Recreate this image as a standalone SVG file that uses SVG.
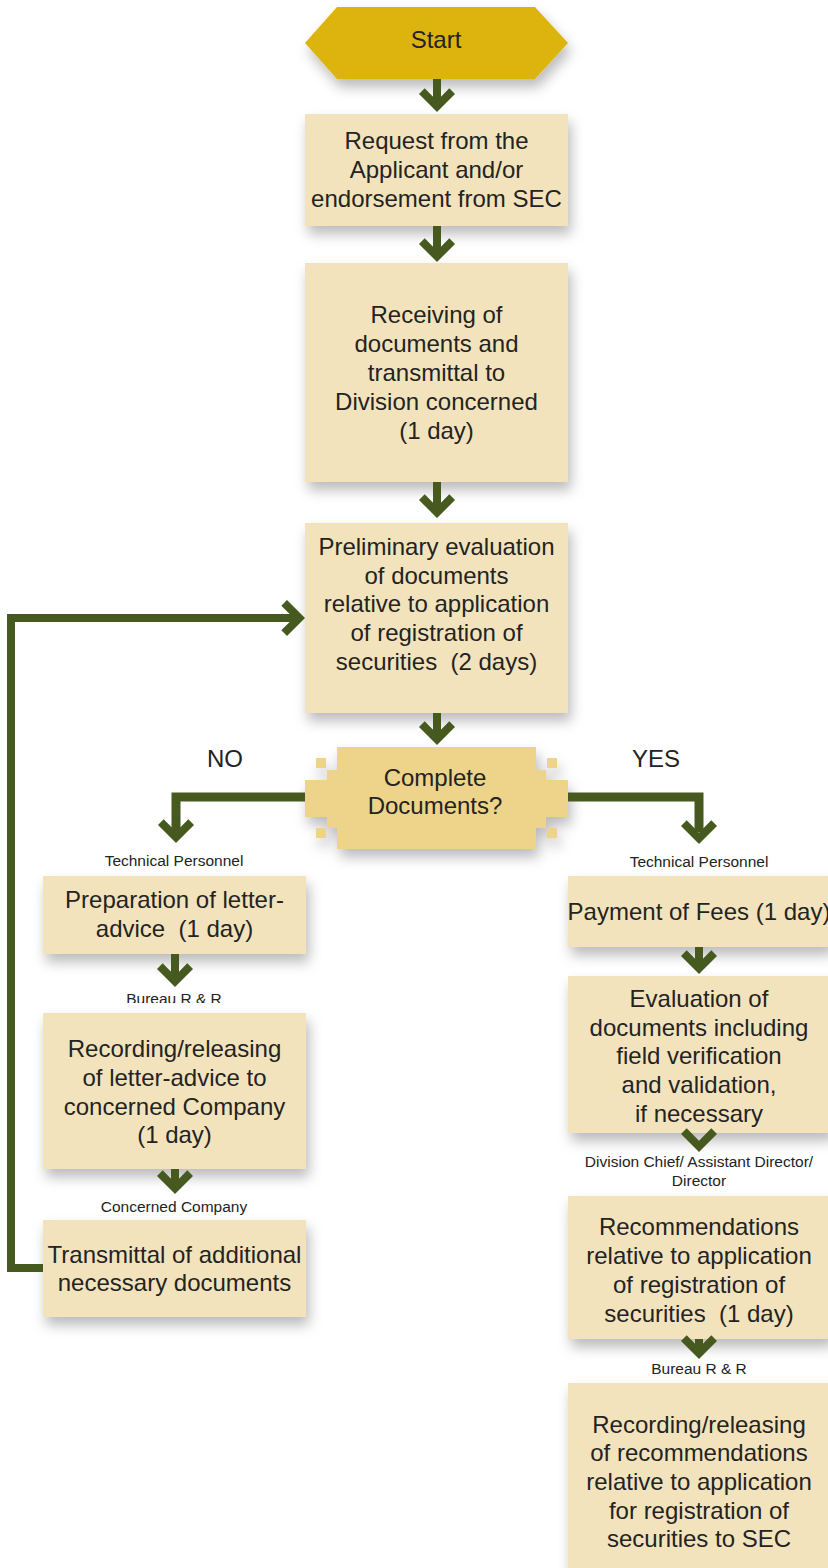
<svg xmlns="http://www.w3.org/2000/svg" width="828" height="1568" viewBox="0 0 828 1568">
  <style>
    .box { fill: #F3E3BD; filter: url(#shadow); }
    .start { fill: #DDB407; filter: url(#shadow); }
    .dec { fill: #EDD48A; }
    .t { font-family: "Liberation Sans", Arial, sans-serif; font-size: 24px; fill: #232323; text-anchor: middle; white-space: pre; }
    .s { font-family: "Liberation Sans", Arial, sans-serif; font-size: 15.5px; fill: #232323; text-anchor: middle; white-space: pre; }
    .line { fill: none; stroke: #465A1F; stroke-width: 9; stroke-linejoin: miter; }
    .stem { fill: #465A1F; }
    .head { fill: #465A1F; }
  </style>
  <defs>
    <filter id="shadow" x="-15%" y="-15%" width="135%" height="145%">
      <feDropShadow dx="3" dy="8" stdDeviation="6.5" flood-color="#000" flood-opacity="0.27"/>
    </filter>
    <!-- chevron arrowhead, tip at origin, pointing down -->
    <path id="chev" d="M-18,-18 L0,0 L18,-18 L12.3,-23.7 L0,-11.3 L-12.3,-23.7 Z"/>
    <clipPath id="clipBureauL">
      <rect x="0" y="980" width="400" height="23"/>
    </clipPath>
  </defs>

  <rect width="828" height="1568" fill="#FFFFFF"/>

  <!-- start terminal -->
  <g id="start">
    <polygon class="start" points="305,43 337,7 535,7 568,43 535,79 337,79"/>
    <text class="t" x="436" y="48">Start</text>
  </g>

  <g id="request">
    <rect class="box" x="305" y="114" width="263" height="112"/>
    <text class="t" x="436.5" y="149">Request from the</text>
    <text class="t" x="436.5" y="178">Applicant and/or</text>
    <text class="t" x="436.5" y="207">endorsement from SEC</text>
  </g>

  <g id="receiving">
    <rect class="box" x="305" y="263" width="263" height="219"/>
    <text class="t" x="436.5" y="323">Receiving of</text>
    <text class="t" x="436.5" y="352">documents and</text>
    <text class="t" x="436.5" y="381">transmittal to</text>
    <text class="t" x="436.5" y="410">Division concerned</text>
    <text class="t" x="436.5" y="439">(1 day)</text>
  </g>

  <g id="preliminary">
    <rect class="box" x="305" y="523" width="263" height="190"/>
    <text class="t" x="436.5" y="555">Preliminary evaluation</text>
    <text class="t" x="436.5" y="584">of documents</text>
    <text class="t" x="436.5" y="612">relative to application</text>
    <text class="t" x="436.5" y="641">of registration of</text>
    <text class="t" x="436.5" y="670" xml:space="preserve">securities  (2 days)</text>
  </g>

  <!-- decision: stepped shape -->
  <g id="decision">
    <g filter="url(#shadow)">
      <rect class="dec" x="337" y="747" width="199" height="102"/>
      <rect class="dec" x="327" y="770" width="219" height="58"/>
      <rect class="dec" x="305" y="780" width="263" height="37"/>
      <rect class="dec" x="316" y="758" width="10" height="10"/>
      <rect class="dec" x="547" y="758" width="10" height="10"/>
      <rect class="dec" x="316" y="828" width="10" height="10"/>
      <rect class="dec" x="547" y="828" width="10" height="10"/>
    </g>
    <text class="t" x="435" y="786">Complete</text>
    <text class="t" x="435" y="814">Documents?</text>
  </g>

  <!-- NO branch -->
  <g id="letter-advice">
    <text class="s" x="174" y="866">Technical Personnel</text>
    <rect class="box" x="43" y="876" width="263" height="78"/>
    <text class="t" x="174.5" y="908">Preparation of letter-</text>
    <text class="t" x="174.5" y="937" xml:space="preserve">advice  (1 day)</text>
  </g>

  <g id="recording-letter">
    <text class="s" x="174" y="1004" clip-path="url(#clipBureauL)">Bureau R &amp; R</text>
    <rect class="box" x="43" y="1013" width="263" height="156"/>
    <text class="t" x="174.5" y="1057">Recording/releasing</text>
    <text class="t" x="174.5" y="1086">of letter-advice to</text>
    <text class="t" x="174.5" y="1115">concerned Company</text>
    <text class="t" x="174.5" y="1143">(1 day)</text>
  </g>

  <g id="transmittal">
    <text class="s" x="174" y="1212">Concerned Company</text>
    <rect class="box" x="43" y="1220" width="263" height="97"/>
    <text class="t" x="174.5" y="1263">Transmittal of additional</text>
    <text class="t" x="174.5" y="1291">necessary documents</text>
  </g>

  <!-- YES branch -->
  <g id="payment">
    <text class="s" x="699" y="867">Technical Personnel</text>
    <rect class="box" x="568" y="876" width="263" height="71"/>
    <text class="t" x="699" y="920">Payment of Fees (1 day)</text>
  </g>

  <g id="evaluation">
    <rect class="box" x="568" y="976" width="263" height="157"/>
    <text class="t" x="699" y="1007">Evaluation of</text>
    <text class="t" x="699" y="1036">documents including</text>
    <text class="t" x="699" y="1064">field verification</text>
    <text class="t" x="699" y="1093">and validation,</text>
    <text class="t" x="699" y="1122">if necessary</text>
  </g>

  <g id="recommendations">
    <text class="s" x="699" y="1167">Division Chief/ Assistant Director/</text>
    <text class="s" x="699" y="1186">Director</text>
    <rect class="box" x="568" y="1196" width="263" height="143"/>
    <text class="t" x="699" y="1235">Recommendations</text>
    <text class="t" x="699" y="1264">relative to application</text>
    <text class="t" x="699" y="1293">of registration of</text>
    <text class="t" x="699" y="1322" xml:space="preserve">securities  (1 day)</text>
  </g>

  <g id="recording-recommendations">
    <text class="s" x="699" y="1374">Bureau R &amp; R</text>
    <rect class="box" x="568" y="1383" width="263" height="220"/>
    <text class="t" x="699" y="1433">Recording/releasing</text>
    <text class="t" x="699" y="1461">of recommendations</text>
    <text class="t" x="699" y="1490">relative to application</text>
    <text class="t" x="699" y="1519">for registration of</text>
    <text class="t" x="699" y="1547">securities to SEC</text>
  </g>

  <!-- NO / YES captions -->
  <g id="branch-labels">
    <text class="t" x="225" y="767">NO</text>
    <text class="t" x="656" y="767">YES</text>
  </g>

  <!-- connectors -->
  <g id="connectors">
    <!-- main column -->
    <rect class="stem" x="433" y="79" width="8" height="22"/>
    <use href="#chev" class="head" transform="translate(437,112)"/>
    <rect class="stem" x="433" y="226" width="8" height="25"/>
    <use href="#chev" class="head" transform="translate(437,262)"/>
    <rect class="stem" x="433" y="482" width="8" height="25"/>
    <use href="#chev" class="head" transform="translate(437,518)"/>
    <rect class="stem" x="433" y="713" width="8" height="22"/>
    <use href="#chev" class="head" transform="translate(437,745)"/>

    <!-- decision branches -->
    <polyline class="line" points="305,797 176,797 176,832"/>
    <use href="#chev" class="head" transform="translate(176,843)"/>
    <polyline class="line" points="568,797 699,797 699,832"/>
    <use href="#chev" class="head" transform="translate(699,844)"/>

    <!-- NO column -->
    <rect class="stem" x="171" y="954" width="8" height="22"/>
    <use href="#chev" class="head" transform="translate(175,987)"/>
    <rect class="stem" x="171" y="1169" width="8" height="14"/>
    <use href="#chev" class="head" transform="translate(175,1194)"/>

    <!-- loop back to preliminary evaluation -->
    <polyline class="line" style="stroke-width:8" points="43,1268 11,1268 11,618 296,618"/>
    <use href="#chev" class="head" transform="translate(305,618) rotate(-90)"/>

    <!-- YES column -->
    <rect class="stem" x="695" y="947" width="8" height="16"/>
    <use href="#chev" class="head" transform="translate(699,974)"/>
    <use href="#chev" class="head" transform="translate(699,1152)"/>
    <rect class="stem" x="695" y="1339" width="8" height="10"/>
    <use href="#chev" class="head" transform="translate(699,1359)"/>
  </g>
</svg>
